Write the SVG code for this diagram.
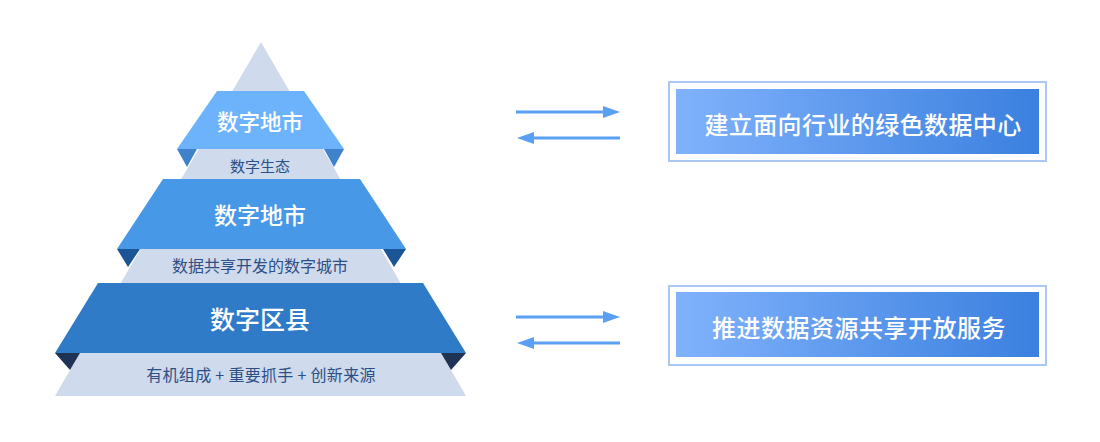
<svg xmlns="http://www.w3.org/2000/svg" width="1100" height="442" viewBox="0 0 1100 442">
<style>
.bg{fill:#cfdaec}
.b1{fill:#6db3fc}
.f1{fill:#3e82cc}
.b2{fill:#4898e8}
.f2{fill:#1c5596}
.b3{fill:#2f7bc8}
.f3{fill:#1f3454}
.big{font-family:"Noto Sans CJK SC","Noto Sans",sans-serif;font-weight:500;fill:#ffffff;text-anchor:middle;dominant-baseline:central}
.small{font-family:"Noto Sans CJK SC","Noto Sans",sans-serif;font-weight:400;fill:#2c4f86;text-anchor:middle;dominant-baseline:central}
.box-out{fill:#ffffff;stroke:#a9c8f4;stroke-width:2}
.arr{stroke:#5b9ff2;stroke-width:3;fill:none;marker-end:url(#head)}
</style>
<defs>
<marker id="head" markerUnits="userSpaceOnUse" markerWidth="17" markerHeight="12" refX="0" refY="6" orient="auto">
<path d="M0,0 L17,6 L0,12 z" fill="#5b9ff2"/>
</marker>
<linearGradient id="grad" x1="0" y1="0" x2="1" y2="0">
<stop offset="0" stop-color="#80b2fc"/>
<stop offset="1" stop-color="#3b80df"/>
</linearGradient>
</defs>
<rect width="1100" height="442" fill="#ffffff"/>
<g id="pyramid">
<polygon class="bg" points="261,42 466,396 55,396"/>
<g id="tier1">
<polygon class="b1" points="217,91 304,91 344,149 177,149"/>
<polygon class="f1" points="177,149 197,149 187,167"/>
<polygon class="f1" points="324,149 344,149 334,167"/>
<text class="big" x="260" y="120" font-size="21.5">数字地市</text>
</g>
<text id="label1" class="small" x="260" y="165" font-size="15">数字生态</text>
<g id="tier2">
<polygon class="b2" points="163,179 360,179 406,249 117,249"/>
<polygon class="f2" points="117,249 140,249 128,267"/>
<polygon class="f2" points="383,249 406,249 394,267"/>
<text class="big" x="260" y="214" font-size="23">数字地市</text>
</g>
<text id="label2" class="small" x="260" y="265" font-size="16">数据共享开发的数字城市</text>
<g id="tier3">
<polygon class="b3" points="98,283 423,283 466,353 55,353"/>
<polygon class="f3" points="55,353 80,353 70,370"/>
<polygon class="f3" points="441,353 466,353 451,370"/>
<text class="big" x="260" y="318" font-size="25">数字区县</text>
</g>
<text id="label3" class="small" x="261" y="374" font-size="16" letter-spacing="0.3" xml:space="preserve">有机组成 + 重要抓手 + 创新来源</text>
</g>
<g id="connectors">
<line class="arr" x1="516" y1="112" x2="603" y2="112"/>
<line class="arr" x1="620" y1="138" x2="534" y2="138"/>
<line class="arr" x1="516" y1="317" x2="603" y2="317"/>
<line class="arr" x1="620" y1="343" x2="534" y2="343"/>
</g>
<g id="box1">
<rect class="box-out" x="669" y="82" width="377" height="79"/>
<rect x="676" y="89" width="363" height="65" fill="url(#grad)"/>
<text class="big" x="863" y="123" font-size="24" letter-spacing="0.4">建立面向行业的绿色数据中心</text>
</g>
<g id="box2">
<rect class="box-out" x="669" y="286" width="377" height="79"/>
<rect x="676" y="292" width="363" height="65" fill="url(#grad)"/>
<text class="big" x="859" y="326" font-size="24" letter-spacing="0.5">推进数据资源共享开放服务</text>
</g>
</svg>
